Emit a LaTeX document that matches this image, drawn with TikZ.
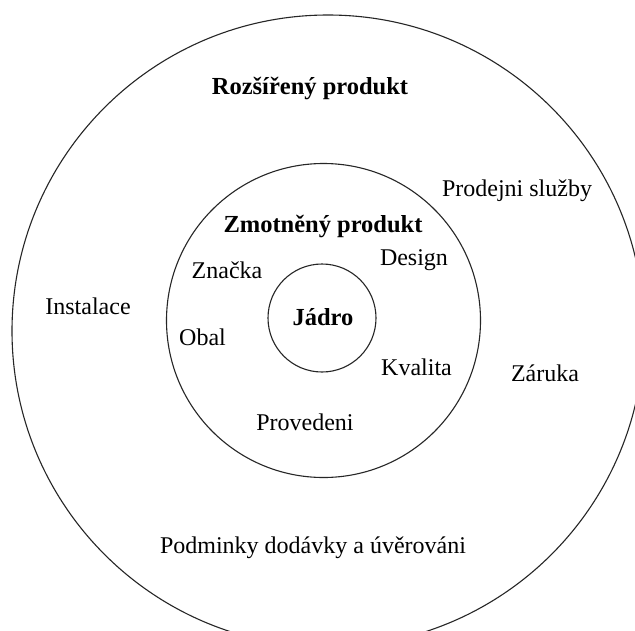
\documentclass[tikz,border=0pt]{standalone}
\usepackage{fontspec}
\setmainfont{Liberation Serif}
\begin{document}
\begin{tikzpicture}[x=1pt,y=-1pt,
  ring/.style={draw=black!85,line width=1.1pt},
  lbl/.style={anchor=base,inner sep=0pt,font=\fontsize{24}{28}\selectfont},
  head/.style={anchor=base,inner sep=0pt,font=\fontsize{24.5}{28}\selectfont\bfseries}]
\useasboundingbox (0,0) rectangle (635,630);
\clip (0,0) rectangle (635,630);
\fill[white] (0,0) rectangle (635,630);
\node[ring,circle,minimum size=632pt,inner sep=0pt] (outer) at (328,331) {};
\node[ring,circle,minimum size=314pt,inner sep=0pt] (middle) at (323.5,320.5) {};
\node[ring,circle,minimum size=108pt,inner sep=0pt] (core) at (322,318) {};
\node[head] (rozs) at (310,94) {Rozšířený produkt};
\node[lbl] (prod) at (517,196) {Prodejni služby};
\node[head] (zmot) at (323,232) {Zmotněný produkt};
\node[lbl] (design) at (414,265) {Design};
\node[lbl] (znacka) at (227,278) {Značka};
\node[head] (jadro) at (323,325) {Jádro};
\node[lbl] (instal) at (88,314) {Instalace};
\node[lbl] (obal) at (202.5,345) {Obal};
\node[lbl] (kval) at (416.5,375) {Kvalita};
\node[lbl] (zaruka) at (545,381) {Záruka};
\node[lbl] (proved) at (305,430) {Provedeni};
\node[lbl] (podm) at (313,553) {Podminky dodávky a úvěrováni};
\end{tikzpicture}
\end{document}
